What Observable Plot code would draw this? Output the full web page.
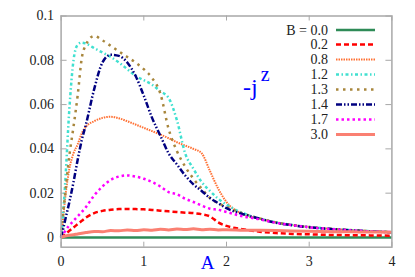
<!DOCTYPE html>
<html>
<head>
<meta charset="utf-8">
<script src="https://cdn.jsdelivr.net/npm/d3@7"></script>
<script src="https://cdn.jsdelivr.net/npm/@observablehq/plot@0.6"></script>
<style>
  body { margin: 0; background: #fff; }
  #chart { position: relative; width: 415px; height: 277px; }
  #chart svg, #chart svg text { font-family: 'Liberation Serif', 'DejaVu Serif', serif !important; }
</style>
</head>
<body>
<div id="chart"></div>
<script>
// ---- data ----
const A = [0, 0.02, 0.05, 0.1, 0.15, 0.2, 0.25, 0.3, 0.4, 0.5, 0.6, 0.7, 0.8, 0.9, 1.0, 1.1, 1.2, 1.3, 1.4, 1.5, 1.6, 1.7, 1.8, 1.9, 2.0, 2.2, 2.4, 2.6, 2.8, 3.0, 3.3, 3.6, 4.0];
const B = ["0.0", "0.2", "0.8", "1.2", "1.3", "1.4", "1.7", "3.0"];
const j00 = A.map(() => 0);
const j02 = [0, 0.0005, 0.0015, 0.003, 0.0045, 0.006, 0.0075, 0.009, 0.011, 0.012, 0.0125, 0.0128, 0.0129, 0.0128, 0.0127, 0.0124, 0.0121, 0.0118, 0.0115, 0.0112, 0.011, 0.0105, 0.0095, 0.0068, 0.0052, 0.0037, 0.0026, 0.002, 0.0016, 0.0014, 0.0011, 0.001, 0.0008];
const j08 = [0, 0.007, 0.018, 0.031, 0.038, 0.042, 0.047, 0.050, 0.0525, 0.054, 0.0545, 0.0538, 0.0525, 0.051, 0.0495, 0.048, 0.0465, 0.0448, 0.043, 0.0415, 0.040, 0.038, 0.030, 0.022, 0.016, 0.0105, 0.0085, 0.0068, 0.0056, 0.0047, 0.0038, 0.0031, 0.0024];
const j12 = [0, 0.008, 0.025, 0.058, 0.080, 0.087, 0.088, 0.0875, 0.0855, 0.0835, 0.0815, 0.079, 0.076, 0.073, 0.071, 0.069, 0.066, 0.063, 0.053, 0.038, 0.031, 0.025, 0.021, 0.0175, 0.0148, 0.011, 0.0085, 0.0068, 0.0056, 0.0047, 0.0038, 0.0031, 0.0024];
const j13 = [0, 0.009, 0.02, 0.037, 0.05, 0.064, 0.081, 0.087, 0.091, 0.089, 0.0865, 0.084, 0.0815, 0.079, 0.076, 0.072, 0.065, 0.049, 0.039, 0.032, 0.0265, 0.022, 0.0178, 0.0155, 0.0138, 0.0108, 0.0086, 0.0068, 0.0056, 0.0047, 0.0038, 0.0031, 0.0024];
const j14 = [0, 0.003, 0.008, 0.016, 0.025, 0.035, 0.044, 0.051, 0.067, 0.079, 0.0825, 0.082, 0.079, 0.073, 0.064, 0.054, 0.046, 0.038, 0.033, 0.028, 0.024, 0.021, 0.0178, 0.0155, 0.0132, 0.0105, 0.0085, 0.0066, 0.0055, 0.0046, 0.0037, 0.003, 0.0023];
const j17 = [0, 0.001, 0.003, 0.0055, 0.0075, 0.0095, 0.0115, 0.0137, 0.019, 0.023, 0.026, 0.0275, 0.028, 0.0275, 0.0265, 0.025, 0.023, 0.0205, 0.0195, 0.0175, 0.016, 0.0144, 0.013, 0.0125, 0.0115, 0.0095, 0.0082, 0.0066, 0.0055, 0.0046, 0.0037, 0.003, 0.0024];
const j30 = [0, 0.0003, 0.0006, 0.001, 0.0012, 0.0016, 0.0019, 0.0022, 0.0027, 0.0026, 0.0031, 0.003, 0.0034, 0.0031, 0.0035, 0.0033, 0.0037, 0.0034, 0.0038, 0.0036, 0.0039, 0.0035, 0.0037, 0.0034, 0.0035, 0.0033, 0.0032, 0.0031, 0.0029, 0.0028, 0.0026, 0.0025, 0.0024];
const xTicks = [0, 1, 2, 3, 4];
const yTicks = [0, 0.02, 0.04, 0.06, 0.08, 0.1];
const yTickLabels = ["0", "0.02", "0.04", "0.06", "0.08", "0.1"];

// ---- styles ----
const seriesVals = [j00, j02, j08, j12, j13, j14, j17, j30];
const styles = [
  {stroke: "#2e8b57", width: 2.5, dash: null},
  {stroke: "#ff0000", width: 2.5, dash: "5,3"},
  {stroke: "#ff7033", width: 2, dash: "1.5,1"},
  {stroke: "#40e0d0", width: 2.5, dash: "3,2.5,1.5,2.5"},
  {stroke: "#a8863c", width: 2.5, dash: "2.5,4.5"},
  {stroke: "#000080", width: 2.5, dash: "6,2,1.5,2,1.5,2"},
  {stroke: "#ff00ff", width: 2.5, dash: "2.5,3"},
  {stroke: "#fa8072", width: 3, dash: null}
];

const W = 415, H = 277;
const mL = 60.6, mR = 23.6, mT = 15.5, mB = 30.3;
const fw = W - mL - mR, fh = H - mT - mB;
const grey = "#a8a8a8";
const font = "'Liberation Serif', 'DejaVu Serif', serif";

const rows = [];
B.forEach((b, k) => A.forEach((a, i) => rows.push({A: a, j: seriesVals[k][i], B: b})));

const lineMarks = B.map((b, k) => Plot.line(rows.filter(r => r.B === b), {
  x: "A", y: "j", stroke: styles[k].stroke, strokeWidth: styles[k].width,
  strokeDasharray: styles[k].dash, curve: "monotone-x", strokeLinecap: "butt"
}));

const svg = Plot.plot({
  width: W, height: H,
  marginLeft: mL, marginRight: mR, marginTop: mT, marginBottom: mB,
  style: {fontFamily: font, fontSize: "14px", color: "#222", background: "#fff"},
  x: {domain: [0, 4]},
  y: {domain: [-0.0044, 0.1]},
  marks: [
    Plot.axisX(xTicks, {tickSize: 0, tickPadding: 9, label: null, fontSize: 14}),
    Plot.axisY(yTicks, {tickSize: 0, tickPadding: 7, label: null, fontSize: 14,
      tickFormat: d => yTickLabels[yTicks.indexOf(d)]}),
    Plot.tickX(xTicks, {x: d => d, insetTop: fh - 5, stroke: grey, strokeWidth: 1}),
    Plot.tickX(xTicks, {x: d => d, insetBottom: fh - 5, stroke: grey, strokeWidth: 1}),
    Plot.tickY(yTicks, {y: d => d, insetRight: fw - 6, stroke: grey, strokeWidth: 1}),
    Plot.tickY(yTicks, {y: d => d, insetLeft: fw - 6, stroke: grey, strokeWidth: 1}),
    ...lineMarks,
    Plot.frame({stroke: grey, strokeWidth: 1.5}),
    Plot.text(["A"], {frameAnchor: "bottom", dx: -19, dy: 22, fill: "#0000ff", fontSize: 19})
  ]
});
document.getElementById("chart").appendChild(svg);

// ---- -j^z label and legend ----
const s = d3.select(svg);
const lab = s.append("text").attr("x", 243).attr("y", 95).attr("text-anchor", "start")
  .attr("fill", "#0000ff").attr("font-size", 24);
lab.append("tspan").text("-j");
lab.append("tspan").attr("dx", 3).attr("dy", -14).attr("font-size", 20).text("z");

const leg = s.append("g").attr("font-size", 14);
const legY = [30, 44.5, 59.5, 74.5, 89.5, 104.5, 119.5, 134.5];
B.forEach((b, k) => {
  leg.append("text").attr("x", 328).attr("y", legY[k]).attr("dy", "0.35em")
    .attr("text-anchor", "end").attr("fill", "#222")
    .text(k === 0 ? "B = " + b : b);
  leg.append("line").attr("x1", 336).attr("x2", 375).attr("y1", legY[k]).attr("y2", legY[k])
    .attr("stroke", styles[k].stroke).attr("stroke-width", styles[k].width)
    .attr("stroke-dasharray", styles[k].dash);
});
</script>
</body>
</html>
